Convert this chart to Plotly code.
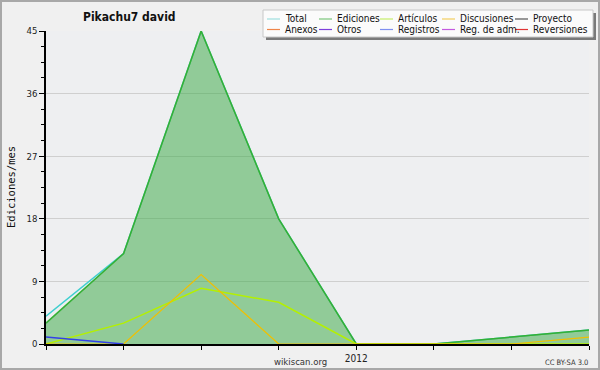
import plotly.graph_objects as go

# ---- data ----
months = ["2011-09", "2011-10", "2011-11", "2011-12", "2012-01", "2012-02", "2012-03", "2012-04"]
month_labels = ["", "", "", "", "2012", "", "", ""]
total = [4, 13, 45, 18, 0, 0, 1, 2]
ediciones = [3, 13, 45, 18, 0, 0, 1, 2]
articulos = [0, 3, 8, 6, 0, 0, 0, 0]
discusiones = [0, 0, 10, 0, 0, 0, 0, 1]
registros = [1, 0, None, None, None, None, None, None]
y_ticks = [0, 9, 18, 27, 36, 45]
legend_names = [["Total", "Ediciones", "Artículos", "Discusiones", "Proyecto"],
                ["Anexos", "Otros", "Registros", "Reg. de adm.", "Reversiones"]]
legend_colors = [["#9fdfe0", "#7cc67c", "#c6ee6a", "#f3cf5f", "#555555"],
                 ["#ef8548", "#7d3fdc", "#7f8ff0", "#c45be0", "#e03434"]]

W, H = 600, 370
L, R, T, B = 46, 11, 31, 26
PW, PH = W - L - R, H - T - B

def px(x):
    return (x - L) / PW

def py(y):
    return (H - B - y) / PH

fig = go.Figure()
fig.add_trace(go.Scatter(x=months, y=total, name="Total", mode="lines",
                         line=dict(color="#3fcfcf", width=1.5)))
fig.add_trace(go.Scatter(x=months, y=ediciones, name="Ediciones", mode="lines",
                         fill="tozeroy", fillcolor="rgba(60,170,70,0.52)",
                         line=dict(color="#35b035", width=1.5)))
fig.add_trace(go.Scatter(x=months, y=articulos, name="Artículos", mode="lines",
                         line=dict(color="#b4f000", width=1.5)))
fig.add_trace(go.Scatter(x=months, y=discusiones, name="Discusiones", mode="lines",
                         line=dict(color="#f0c000", width=1.2)))
fig.add_trace(go.Scatter(x=months, y=registros, name="Registros", mode="lines",
                         line=dict(color="#3340e8", width=1.5)))

FONT = "DejaVu Sans Condensed, DejaVu Sans"
shapes = []
annotations = []
# outer border
shapes.append(dict(type="rect", xref="paper", yref="paper",
                   x0=px(1), x1=px(599), y0=py(1), y1=py(369),
                   line=dict(color="#a8a8a8", width=2), layer="above"))
# legend shadow and box
shapes.append(dict(type="rect", xref="paper", yref="paper",
                   x0=px(266), x1=px(596), y0=py(13), y1=py(40),
                   fillcolor="#7a7a7a", line=dict(width=0), layer="above"))
shapes.append(dict(type="rect", xref="paper", yref="paper",
                   x0=px(263), x1=px(593), y0=py(10), y1=py(37),
                   fillcolor="#fbfbfb", line=dict(color="#c8c8c8", width=1), layer="above"))
col_x = [267, 319, 380, 442, 515]
row_y = [19, 29.5]
for r in range(2):
    for c in range(5):
        shapes.append(dict(type="line", xref="paper", yref="paper",
                           x0=px(col_x[c]), x1=px(col_x[c] + 13),
                           y0=py(row_y[r]), y1=py(row_y[r]),
                           line=dict(color=legend_colors[r][c], width=1.2), layer="above"))
        annotations.append(dict(text=legend_names[r][c], xref="paper", yref="paper",
                                x=px(col_x[c] + 16), y=py(row_y[r]),
                                xanchor="left", yanchor="middle", showarrow=False,
                                font=dict(family=FONT, size=10, color="#111")))

annotations.append(dict(text="<b>Pikachu7 david</b>", xref="paper", yref="paper",
                        x=px(129), y=py(17), xanchor="center", yanchor="middle", showarrow=False,
                        font=dict(family=FONT, size=12, color="#111")))
annotations.append(dict(text="Ediciones/mes", xref="paper", yref="paper",
                        x=px(11), y=py(187), xanchor="center", yanchor="middle", showarrow=False,
                        textangle=-90,
                        font=dict(family="DejaVu Sans Mono", size=10.5, color="#111")))
annotations.append(dict(text="wikiscan.org", xref="paper", yref="paper",
                        x=px(300), y=py(361), xanchor="center", yanchor="middle", showarrow=False,
                        font=dict(family=FONT, size=9.5, color="#333")))
annotations.append(dict(text="CC BY-SA 3.0", xref="paper", yref="paper",
                        x=px(590), y=py(362), xanchor="right", yanchor="middle", showarrow=False,
                        font=dict(family=FONT, size=7.5, color="#333")))

fig.update_layout(
    width=W, height=H,
    margin=dict(l=L, r=R, t=T, b=B, pad=0),
    paper_bgcolor="#f0f0f0",
    plot_bgcolor="#eeeff1",
    showlegend=False,
    shapes=shapes,
    annotations=annotations,
    xaxis=dict(type="category", range=[0, len(months) - 1], automargin=False,
               tickmode="array", tickvals=months, ticktext=month_labels,
               ticks="outside", ticklen=4, tickcolor="#000", tickwidth=1,
               showline=True, linecolor="#000", linewidth=2,
               showgrid=False, zeroline=False,
               tickfont=dict(family=FONT, size=10, color="#222")),
    yaxis=dict(range=[0, 45], tickmode="array", tickvals=y_ticks, automargin=False,
               ticks="outside", ticklen=5, tickcolor="#000", tickwidth=1,
               showline=True, linecolor="#000", linewidth=1.5,
               showgrid=True, gridcolor="#cfcfcf", gridwidth=1, zeroline=False,
               minor=dict(dtick=2.25, ticks="outside", ticklen=3, tickcolor="#000", showgrid=False),
               tickfont=dict(family=FONT, size=9.5, color="#222")),
)

fig.write_html("out.html", config={"displayModeBar": False},
               post_script="document.body.style.margin='0';document.body.style.overflow='hidden';")
